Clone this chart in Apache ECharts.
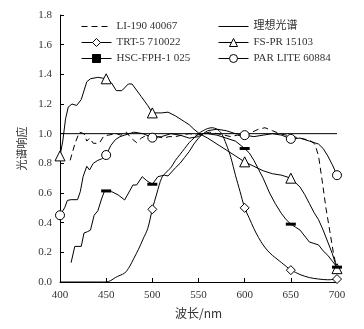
<!DOCTYPE html>
<html>
<head>
<meta charset="utf-8">
<script src="https://cdn.jsdelivr.net/npm/echarts@6/dist/echarts.min.js"></script>
<style>
  html, body { margin: 0; padding: 0; background: #fff; }
  #chart { width: 364px; height: 329px; }
</style>
</head>
<body>
<div id="chart"></div>
<script>
  // wavelength (nm) / relative response
  const idealWl = [400, 700]
  const idealVal = [1.0, 1.0]

  const liWl = [411, 416, 421, 426, 429, 432, 436, 440, 443, 447, 452, 461, 466, 472, 477, 483, 488, 494, 500, 506, 512, 518, 525, 532, 540, 548, 555, 562, 570, 578, 585, 592, 600, 608, 615, 622, 630, 638, 645, 652, 660, 667, 672, 676, 680, 684, 688, 692, 696, 700]
  const liVal = [0.82, 0.93, 1.01, 1.0, 0.95, 0.97, 0.935, 0.935, 0.94, 0.98, 0.99, 1.0, 0.99, 1.01, 0.97, 0.94, 0.97, 0.99, 0.96, 0.98, 0.97, 0.98, 0.98, 0.99, 1.0, 0.99, 1.0, 1.01, 1.0, 0.99, 0.98, 0.99, 0.98, 1.01, 1.03, 1.04, 1.02, 1.0, 0.99, 0.98, 0.97, 0.96, 0.95, 0.93, 0.85, 0.68, 0.5, 0.35, 0.2, 0.08]

  const trtWl = [400, 450, 455, 460, 465, 470, 475, 480, 485, 490, 495, 500, 505, 510, 515, 520, 525, 530, 535, 540, 545, 550, 555, 560, 565, 570, 575, 580, 585, 590, 595, 600, 605, 610, 615, 620, 625, 630, 635, 640, 645, 650, 655, 660, 670, 680, 690, 700]
  const trtVal = [0, 0, 0.01, 0.03, 0.045, 0.06, 0.1, 0.16, 0.22, 0.29, 0.36, 0.49, 0.6, 0.7, 0.74, 0.77, 0.82, 0.86, 0.9, 0.94, 0.97, 1.0, 1.02, 1.035, 1.04, 1.03, 1.0, 0.93, 0.84, 0.72, 0.61, 0.5, 0.43, 0.36, 0.3, 0.25, 0.21, 0.18, 0.155, 0.13, 0.105, 0.08, 0.065, 0.05, 0.03, 0.02, 0.015, 0.02]
  const trtMarks = [500, 600, 650, 700]

  const fsWl = [400, 403, 406, 409, 413, 418, 423, 429, 433, 441, 450, 456, 461, 467, 474, 478, 488, 495, 500, 505, 510, 517, 525, 530, 535, 540, 545, 551, 560, 570, 580, 590, 600, 610, 620, 630, 640, 650, 655, 660, 665, 670, 675, 680, 685, 690, 695, 700]
  const fsVal = [0.85, 0.95, 1.1, 1.18, 1.2, 1.19, 1.23, 1.35, 1.37, 1.38, 1.37, 1.34, 1.29, 1.29, 1.335, 1.335, 1.25, 1.19, 1.14, 1.14, 1.14, 1.145, 1.12, 1.1, 1.08, 1.06, 1.03, 1.0, 0.97, 0.93, 0.89, 0.85, 0.81, 0.78, 0.75, 0.73, 0.72, 0.7, 0.67, 0.64, 0.59, 0.53, 0.47, 0.42, 0.35, 0.27, 0.19, 0.09]
  const fsMarks = [400, 450, 500, 600, 650, 700]

  const hscWl = [412, 416, 423, 426, 430, 433, 437, 441, 445, 448, 450, 456, 463, 470, 476, 479, 483, 489, 494, 500, 506, 513, 517, 525, 530, 535, 540, 545, 550, 555, 560, 570, 580, 590, 600, 605, 610, 615, 620, 627, 633, 640, 645, 650, 655, 660, 665, 670, 675, 680, 685, 690, 695, 700]
  const hscVal = [0.13, 0.24, 0.24, 0.33, 0.34, 0.35, 0.45, 0.48, 0.56, 0.61, 0.614, 0.609, 0.587, 0.553, 0.62, 0.654, 0.654, 0.71, 0.683, 0.659, 0.71, 0.72, 0.715, 0.77, 0.8, 0.84, 0.88, 0.93, 0.97, 1.0, 1.0, 0.99, 0.97, 0.95, 0.9, 0.87, 0.82, 0.76, 0.7, 0.6, 0.53, 0.46, 0.42, 0.39, 0.37, 0.35, 0.31, 0.27, 0.26, 0.25, 0.21, 0.18, 0.14, 0.1]
  const hscMarks = [450, 500, 600, 650, 700]

  const parWl = [400, 405, 408, 412, 419, 422, 425, 429, 432, 436, 441, 445, 450, 455, 460, 465, 470, 480, 490, 500, 510, 520, 530, 540, 550, 560, 570, 580, 590, 600, 610, 620, 630, 640, 650, 660, 670, 680, 685, 690, 695, 700]
  const parVal = [0.45, 0.5, 0.55, 0.555, 0.555, 0.61, 0.71, 0.78, 0.755, 0.8, 0.82, 0.83, 0.856, 0.92, 0.96, 0.98, 0.99, 1.01, 1.0, 0.973, 0.98, 1.0, 0.99, 0.97, 0.98, 1.02, 1.03, 1.02, 1.0, 0.99, 0.98, 0.99, 1.0, 0.99, 0.965, 0.97, 0.95, 0.93, 0.9, 0.85, 0.79, 0.72]
  const parMarks = [400, 450, 500, 600, 650, 700]

  const serif = 'Liberation Serif'
  const cjk = 'Noto Sans CJK SC'

  function toData (wl, val, marks) {
    return wl.map((w, i) => {
      if (marks && marks.indexOf(w) >= 0) return [w, val[i]]
      return { value: [w, val[i]], symbol: 'none' }
    })
  }

  const chart = echarts.init(document.getElementById('chart'))
  const legendText = { fontFamily: serif + ', ' + cjk, fontSize: 11, color: '#333' }

  const option = {
    animation: false,
    backgroundColor: '#fff',
    grid: { left: 60, right: 27, top: 15, bottom: 47 },
    legend: [
      {
        data: ['LI-190 40067', 'TRT-5 710022', 'HSC-FPH-1 025'],
        orient: 'vertical',
        left: 76,
        top: 16,
        itemWidth: 30,
        itemHeight: 10,
        itemGap: 5,
        textStyle: legendText,
        itemStyle: { borderWidth: 1 },
        lineStyle: { width: 1 }
      },
      {
        data: ['理想光谱', 'FS-PR 15103', 'PAR LITE 60884'],
        orient: 'vertical',
        left: 213,
        top: 16,
        itemWidth: 30,
        itemHeight: 10,
        itemGap: 5,
        textStyle: legendText,
        itemStyle: { borderWidth: 1 },
        lineStyle: { width: 1 }
      }
    ],
    xAxis: {
      type: 'value',
      min: 400,
      max: 700,
      interval: 50,
      name: '波长/nm',
      nameLocation: 'middle',
      nameGap: 25,
      nameTextStyle: { fontFamily: cjk, fontSize: 12, color: '#333' },
      axisLine: { lineStyle: { color: '#000', width: 1 } },
      axisTick: { inside: true, length: 4, lineStyle: { color: '#000' } },
      axisLabel: { fontFamily: serif, fontSize: 11, color: '#333', margin: 8 },
      splitLine: { show: false }
    },
    yAxis: {
      type: 'value',
      min: 0,
      max: 1.8,
      interval: 0.2,
      name: '光谱响应',
      nameLocation: 'middle',
      nameGap: 33,
      nameTextStyle: { fontFamily: cjk, fontSize: 11, color: '#333' },
      axisLine: { show: true, lineStyle: { color: '#000', width: 1 } },
      axisTick: { show: true, inside: true, length: 4, lineStyle: { color: '#000' } },
      axisLabel: { fontFamily: serif, fontSize: 11, color: '#333', margin: 8, formatter: v => v.toFixed(1) },
      splitLine: { show: false }
    },
    series: [
      {
        name: '理想光谱',
        type: 'line',
        data: toData(idealWl, idealVal),
        showSymbol: false,
        itemStyle: { opacity: 0 },
        lineStyle: { color: '#000', width: 1 }
      },
      {
        name: 'LI-190 40067',
        type: 'line',
        data: toData(liWl, liVal),
        showSymbol: false,
        itemStyle: { opacity: 0 },
        lineStyle: { color: '#000', width: 1, type: [6, 4] }
      },
      {
        name: 'TRT-5 710022',
        type: 'line',
        data: toData(trtWl, trtVal, trtMarks),
        smooth: 0.3,
        symbol: 'diamond',
        symbolSize: 9,
        itemStyle: { color: '#fff', borderColor: '#000', borderWidth: 1 },
        lineStyle: { color: '#000', width: 1 },
        z: 3
      },
      {
        name: 'FS-PR 15103',
        type: 'line',
        data: toData(fsWl, fsVal, fsMarks),
        symbol: 'triangle',
        symbolSize: 10,
        itemStyle: { color: '#fff', borderColor: '#000', borderWidth: 1 },
        lineStyle: { color: '#000', width: 1 },
        z: 3
      },
      {
        name: 'HSC-FPH-1 025',
        type: 'line',
        data: toData(hscWl, hscVal, hscMarks),
        symbol: 'rect',
        symbolSize: [10, 3],
        itemStyle: { color: '#000', borderColor: '#000', borderWidth: 0 },
        lineStyle: { color: '#000', width: 1 },
        z: 3
      },
      {
        name: 'PAR LITE 60884',
        type: 'line',
        data: toData(parWl, parVal, parMarks),
        symbol: 'circle',
        symbolSize: 9,
        itemStyle: { color: '#fff', borderColor: '#000', borderWidth: 1 },
        lineStyle: { color: '#000', width: 1 },
        z: 3
      }
    ]
  }

  chart.setOption(option)
</script>
</body>
</html>
